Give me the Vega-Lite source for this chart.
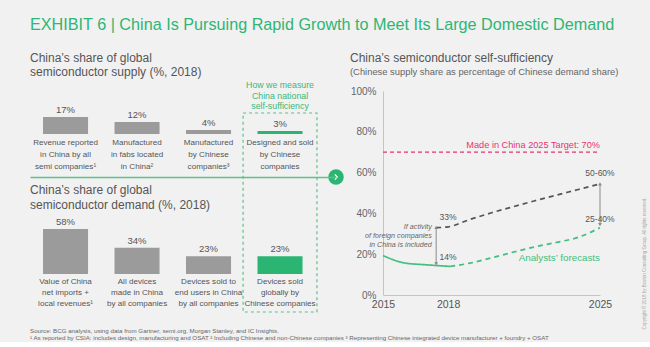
{
  "$schema": "https://vega.github.io/schema/vega-lite/v6.json",
  "background": "#f1f1f1",
  "padding": {"left": 30, "top": 17, "right": 4, "bottom": 0},
  "config": {
    "font": "Liberation Sans",
    "view": {"stroke": null},
    "axis": {"grid": false, "labelFont": "Liberation Sans", "titleFont": "Liberation Sans"},
    "title": {"font": "Liberation Sans", "subtitleFont": "Liberation Sans"},
    "text": {"font": "Liberation Sans"}
  },
  "datasets": {
    "supply": [
      {"item": "Revenue reported|in China by all|semi companies¹", "share": 17, "label": "17%", "ours": "no"},
      {"item": "Manufactured|in fabs located|in China²", "share": 12, "label": "12%", "ours": "no"},
      {"item": "Manufactured|by Chinese|companies³", "share": 4, "label": "4%", "ours": "no"},
      {"item": "Designed and sold|by Chinese|companies", "share": 3, "label": "3%", "ours": "yes"}
    ],
    "demand": [
      {"item": "Value of China|net imports +|local revenues¹", "share": 58, "label": "58%", "ours": "no"},
      {"item": "All devices|made in China|by all companies", "share": 34, "label": "34%", "ours": "no"},
      {"item": "Devices sold to|end users in China|by all companies", "share": 23, "label": "23%", "ours": "no"},
      {"item": "Devices sold|globally by|Chinese companies", "share": 23, "label": "23%", "ours": "yes"}
    ],
    "lines": [
      {"series": "actual", "year": 2015, "val": 19.3},
      {"series": "actual", "year": 2016, "val": 15.7},
      {"series": "actual", "year": 2017, "val": 14.8},
      {"series": "actual", "year": 2018.1, "val": 14},
      {"series": "forecast", "year": 2018.1, "val": 14},
      {"series": "forecast", "year": 2019, "val": 15.6},
      {"series": "forecast", "year": 2020, "val": 18.2},
      {"series": "forecast", "year": 2021, "val": 21},
      {"series": "forecast", "year": 2022, "val": 23.6},
      {"series": "forecast", "year": 2023, "val": 25.8},
      {"series": "forecast", "year": 2024, "val": 28.3},
      {"series": "forecast", "year": 2025, "val": 33},
      {"series": "foreign", "year": 2017.45, "val": 33},
      {"series": "foreign", "year": 2018, "val": 33.4},
      {"series": "foreign", "year": 2019, "val": 37},
      {"series": "foreign", "year": 2020, "val": 40.3},
      {"series": "foreign", "year": 2021, "val": 43.3},
      {"series": "foreign", "year": 2022, "val": 46.2},
      {"series": "foreign", "year": 2023, "val": 49},
      {"series": "foreign", "year": 2024, "val": 51.7},
      {"series": "foreign", "year": 2025, "val": 54.5}
    ],
    "arrows": [
      {"year": 2017.45, "lo": 15.2, "hi": 33.2},
      {"year": 2025, "lo": 34.5, "hi": 54.5}
    ],
    "notes": [
      {"kind": "num", "year": 2018, "val": 38.1, "t": "33%"},
      {"kind": "num", "year": 2018, "val": 18.8, "t": "14%"},
      {"kind": "num", "year": 2025, "val": 59.8, "t": "50-60%"},
      {"kind": "num", "year": 2025, "val": 37.3, "t": "25-40%"},
      {"kind": "note", "year": 2017.25, "val": 33.5, "t": "If activity|of foreign companies|in China is included"},
      {"kind": "fc", "year": 2025, "val": 18.1, "t": "Analysts’ forecasts"},
      {"kind": "target", "year": 2025, "start": 2015, "val": 70, "t": "Made in China 2025 Target: 70%"}
    ]
  },
  "title": {
    "text": ["Source: BCG analysis, using data from Gartner, semi.org, Morgan Stanley, and IC Insights.", "¹ As reported by CSIA: includes design, manufacturing and OSAT  ² Including Chinese and non-Chinese companies  ³ Representing Chinese integrated device manufacturer + foundry + OSAT"],
    "orient": "bottom", "anchor": "start", "frame": "group", "fontSize": 6.2, "fontWeight": "normal",
    "color": "#666666", "lineHeight": 7, "offset": -1
  },
  "vconcat": [
    {
      "title": {
        "text": "EXHIBIT 6 | China Is Pursuing Rapid Growth to Meet Its Large Domestic Demand",
        "anchor": "start", "frame": "group", "fontSize": 16.2, "fontWeight": "normal",
        "color": "#2db674", "offset": 18
      },
      "spacing": 6,
      "resolve": {"scale": {"x": "independent", "y": "independent", "color": "independent", "strokeDash": "independent"}},
      "hconcat": [
        {
          "bounds": "flush",
          "spacing": 40,
          "resolve": {"scale": {"x": "independent", "y": "independent", "color": "independent"}},
          "vconcat": [
            {
              "width": 306, "height": 86,
              "data": {"name": "supply"},
              "title": {"text": ["China’s share of global", "semiconductor supply (%, 2018)"], "anchor": "start", "fontSize": 12, "fontWeight": "normal", "color": "#555555", "lineHeight": 14.5, "offset": 2},
              "encoding": {
                "x": {"field": "item", "type": "nominal", "sort": null,
                  "scale": {"paddingInner": 0.37, "paddingOuter": 0.325, "align": 0.28},
                  "axis": {"title": null, "labels": false, "ticks": false, "domainColor": "#5bc28c", "domainWidth": 1.5, "zindex": 1}}
              },
              "layer": [
                {"mark": {"type": "bar"},
                 "encoding": {
                   "y": {"field": "share", "type": "quantitative", "scale": {"domain": [-43, 43], "nice": false, "zero": false}, "axis": null},
                   "y2": {"datum": 0},
                   "color": {"field": "ours", "type": "nominal", "scale": {"domain": ["no", "yes"], "range": ["#9b9b9b", "#2bb573"]}, "legend": null}}},
                {"mark": {"type": "text", "baseline": "bottom", "dy": -2, "fontSize": 9.5, "color": "#555555"},
                 "encoding": {"y": {"field": "share", "type": "quantitative", "axis": null}, "text": {"field": "label"}}},
                {"mark": {"type": "text", "baseline": "top", "dy": 5, "fontSize": 8.1, "color": "#555555", "lineBreak": "|", "lineHeight": 11.8},
                 "encoding": {"y": {"datum": 0, "type": "quantitative", "axis": null}, "text": {"field": "item"}}},
                {"transform": [{"filter": "datum.ours == 'yes'"}],
                 "mark": {"type": "bar", "filled": false, "stroke": "#5bc28c", "strokeWidth": 1.2, "strokeDash": [3, 3], "width": {"band": 1.64}},
                 "encoding": {"y": {"datum": 21, "type": "quantitative", "axis": null}, "y2": {"datum": -178}}},
                {"transform": [{"filter": "datum.ours == 'yes'"}],
                 "mark": {"type": "text", "baseline": "alphabetic", "dy": -25, "fontSize": 8.8, "color": "#3cb878", "lineBreak": "|", "lineHeight": 10.7},
                 "encoding": {"y": {"datum": 21, "type": "quantitative", "axis": null}, "text": {"value": "How we measure|China national|self-sufficiency"}}},
                {"transform": [{"filter": "datum.ours == 'yes'"}],
                 "mark": {"type": "point", "filled": true, "size": 240, "color": "#2bb573", "opacity": 1},
                 "encoding": {"x": {"value": "width"}, "y": {"value": "height"}}},
                {"transform": [{"filter": "datum.ours == 'yes'"}],
                 "mark": {"type": "point", "shape": "M-0.25,-0.55L0.25,0L-0.25,0.55", "filled": false, "size": 90, "stroke": "#ffffff", "strokeWidth": 1.3, "opacity": 1},
                 "encoding": {"x": {"value": "width"}, "y": {"value": "height"}}}
              ]
            },
            {
              "width": 306, "height": 95,
              "data": {"name": "demand"},
              "title": {"text": ["China’s share of global", "semiconductor demand (%, 2018)"], "anchor": "start", "fontSize": 12, "fontWeight": "normal", "color": "#555555", "lineHeight": 15, "offset": 5},
              "encoding": {
                "x": {"field": "item", "type": "nominal", "sort": null,
                  "scale": {"paddingInner": 0.37, "paddingOuter": 0.325, "align": 0.28},
                  "axis": null}
              },
              "layer": [
                {"mark": {"type": "bar"},
                 "encoding": {
                   "y": {"field": "share", "type": "quantitative", "scale": {"domain": [-49, 73.5], "nice": false, "zero": false}, "axis": null},
                   "y2": {"datum": 0},
                   "color": {"field": "ours", "type": "nominal", "scale": {"domain": ["no", "yes"], "range": ["#9b9b9b", "#2bb573"]}, "legend": null}}},
                {"mark": {"type": "text", "baseline": "bottom", "dy": -2, "fontSize": 9.5, "color": "#555555"},
                 "encoding": {"y": {"field": "share", "type": "quantitative", "axis": null}, "text": {"field": "label"}}},
                {"mark": {"type": "text", "baseline": "top", "dy": 4, "fontSize": 8.1, "color": "#555555", "lineBreak": "|", "lineHeight": 11},
                 "encoding": {"y": {"datum": 0, "type": "quantitative", "axis": null}, "text": {"field": "item"}}}
              ]
            }
          ]
        },
        {
          "width": 217, "height": 204,
          "title": {"text": "China’s semiconductor self-sufficiency", "subtitle": "(Chinese supply share as percentage of Chinese demand share)",
            "anchor": "start", "frame": "group", "dx": -33, "fontSize": 12, "fontWeight": "normal", "color": "#555555",
            "subtitleFontSize": 9.4, "subtitleColor": "#666666", "subtitlePadding": 3, "offset": 9},
          "resolve": {"axis": {"y": "independent"}},
          "layer": [
            {
              "layer": [
                {"data": {"name": "lines"},
                 "mark": {"type": "line", "interpolate": "monotone", "strokeWidth": 1.7},
                 "encoding": {
                   "x": {"field": "year", "type": "quantitative", "scale": {"domain": [2015, 2025], "nice": false, "zero": false},
                     "axis": {"values": [2015, 2018, 2025], "format": "d", "title": null, "ticks": false, "labelFontSize": 10.5, "labelColor": "#555555", "labelPadding": 4, "domainColor": "#c4c4c4", "labelFlush": false}},
                   "y": {"field": "val", "type": "quantitative", "scale": {"domain": [0, 100], "nice": false},
                     "axis": {"values": [0, 20, 40, 60, 80, 100], "labelExpr": "datum.value + '%'", "title": null, "ticks": false, "labelFontSize": 10, "labelColor": "#666666", "labelPadding": 7, "domainColor": "#c4c4c4"}},
                   "color": {"field": "series", "type": "nominal", "scale": {"domain": ["actual", "forecast", "foreign"], "range": ["#40bf7f", "#40bf7f", "#555555"]}, "legend": null},
                   "strokeDash": {"field": "series", "type": "nominal", "scale": {"domain": ["actual", "forecast", "foreign"], "range": [[1, 0], [5, 4], [5, 4]]}, "legend": null}
                 }},
                {"data": {"name": "notes"}, "transform": [{"filter": "datum.kind == 'target'"}],
                 "mark": {"type": "rule", "color": "#e8336e", "strokeDash": [4, 3], "strokeWidth": 1.2},
                 "encoding": {"x": {"field": "start", "type": "quantitative"}, "x2": {"field": "year"}, "y": {"field": "val", "type": "quantitative"}}},
                {"data": {"name": "notes"}, "transform": [{"filter": "datum.kind == 'target'"}],
                 "mark": {"type": "text", "align": "right", "baseline": "alphabetic", "dy": -4, "fontSize": 9.2, "color": "#e8336e"},
                 "encoding": {"x": {"field": "year", "type": "quantitative"}, "y": {"field": "val", "type": "quantitative"}, "text": {"field": "t"}}},
                {"data": {"name": "arrows"},
                 "mark": {"type": "rule", "color": "#8a8a8a", "strokeWidth": 1},
                 "encoding": {"x": {"field": "year", "type": "quantitative"}, "y": {"field": "lo", "type": "quantitative"}, "y2": {"field": "hi"}}},
                {"data": {"name": "arrows"},
                 "mark": {"type": "point", "shape": "triangle-up", "filled": true, "size": 14, "color": "#8a8a8a", "opacity": 1},
                 "encoding": {"x": {"field": "year", "type": "quantitative"}, "y": {"field": "hi", "type": "quantitative"}}},
                {"data": {"name": "arrows"},
                 "mark": {"type": "point", "shape": "triangle-down", "filled": true, "size": 14, "color": "#8a8a8a", "opacity": 1},
                 "encoding": {"x": {"field": "year", "type": "quantitative"}, "y": {"field": "lo", "type": "quantitative"}}},
                {"data": {"name": "notes"}, "transform": [{"filter": "datum.kind == 'num'"}],
                 "mark": {"type": "text", "align": "center", "baseline": "middle", "fontSize": 8.5, "color": "#555555"},
                 "encoding": {"x": {"field": "year", "type": "quantitative"}, "y": {"field": "val", "type": "quantitative"}, "text": {"field": "t"}}},
                {"data": {"name": "notes"}, "transform": [{"filter": "datum.kind == 'note'"}],
                 "mark": {"type": "text", "align": "right", "baseline": "middle", "fontSize": 7.2, "fontStyle": "italic", "color": "#666666", "lineBreak": "|", "lineHeight": 9},
                 "encoding": {"x": {"field": "year", "type": "quantitative"}, "y": {"field": "val", "type": "quantitative"}, "text": {"field": "t"}}},
                {"data": {"name": "notes"}, "transform": [{"filter": "datum.kind == 'fc'"}],
                 "mark": {"type": "text", "align": "right", "baseline": "middle", "fontSize": 9.8, "color": "#40bf7f"},
                 "encoding": {"x": {"field": "year", "type": "quantitative"}, "y": {"field": "val", "type": "quantitative"}, "text": {"field": "t"}}}
              ]
            },
            {"data": {"name": "notes"}, "transform": [{"filter": "datum.kind == 'target'"}],
             "mark": {"type": "rule", "opacity": 0},
             "encoding": {"y": {"field": "val", "type": "quantitative",
               "axis": {"orient": "right", "labels": false, "ticks": false, "domain": false, "grid": false,
                 "title": "Copyright © 2018 by Boston Consulting Group. All rights reserved.",
                 "titleFontSize": 4.5, "titleColor": "#a8a8a8", "titleFontWeight": "normal", "titleAngle": 270,
                 "titleX": 44, "titleY": 172, "titleAlign": "center", "titleBaseline": "middle"}}}}
          ]
        }
      ]
    }
  ]
}
